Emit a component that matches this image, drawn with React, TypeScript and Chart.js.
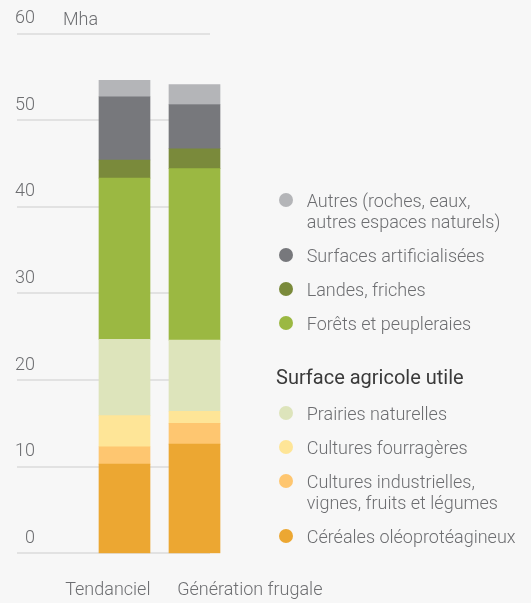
import React, { useEffect, useRef } from 'react';
import { Chart, registerables } from 'chart.js';

Chart.register(...registerables);

// ---- Data ----
const categories = ['Tendanciel', 'Génération frugale'];
const cereales = [10.3, 12.6];
const industrielles = [2.0, 2.4];
const fourrageres = [3.6, 1.4];
const prairies = [8.8, 8.2];
const forets = [18.6, 19.8];
const landes = [2.1, 2.3];
const artificialisees = [7.3, 5.1];
const autres = [1.9, 2.3];
const yTickValues = [0, 10, 20, 30, 40, 50, 60];
const unitLabel = 'Mha';
const sauTitle = 'Surface agricole utile';

// series table (bottom of stack first)
const series = [
  { label: 'Céréales oléoprotéagineux', data: cereales, color: '#eca732', sau: true },
  { label: 'Cultures industrielles,\nvignes, fruits et légumes', data: industrielles, color: '#fec670', sau: true },
  { label: 'Cultures fourragères', data: fourrageres, color: '#fee597', sau: true },
  { label: 'Prairies naturelles', data: prairies, color: '#dde4bb', sau: true },
  { label: 'Forêts et peupleraies', data: forets, color: '#9bb842', sau: false },
  { label: 'Landes, friches', data: landes, color: '#7a8a3b', sau: false },
  { label: 'Surfaces artificialisées', data: artificialisees, color: '#77787c', sau: false },
  { label: 'Autres (roches, eaux,\nautres espaces naturels)', data: autres, color: '#b4b5b8', sau: false },
];

const TEXT_COLOR = '#6d6e71';
const FONT = '300 18px Roboto';
const W = 531;
const H = 603;
const GRID_LEFT = 17;
const GRID_RIGHT = 210;
const X_LABEL_SHIFT = [-16.7, 55.3];

const customPlugin = {
  id: 'customDraw',
  beforeDatasetsDraw(chart: any) {
    const ctx = chart.ctx;
    const y = chart.scales.y;
    ctx.save();
    ctx.strokeStyle = '#e2e2e2';
    ctx.lineWidth = 2;
    yTickValues.forEach((v) => {
      const py = Math.round(y.getPixelForValue(v));
      ctx.beginPath();
      ctx.moveTo(GRID_LEFT, py);
      ctx.lineTo(GRID_RIGHT, py);
      ctx.stroke();
    });
    ctx.restore();
  },
  afterDraw(chart: any) {
    const ctx = chart.ctx;
    const x = chart.scales.x;
    const y = chart.scales.y;
    ctx.save();
    ctx.font = FONT;
    ctx.fillStyle = TEXT_COLOR;
    ctx.textBaseline = 'alphabetic';
    ctx.textAlign = 'center';
    categories.forEach((c, i) => {
      ctx.fillText(c, x.getPixelForValue(i) + X_LABEL_SHIFT[i], 595);
    });
    ctx.textAlign = 'left';
    ctx.fillText(unitLabel, 63, y.getPixelForValue(60) - 8.5);
    ctx.restore();
  },
};

export default function App() {
  const ref = useRef<HTMLCanvasElement>(null);

  useEffect(() => {
    if (!ref.current) return;
    const chart = new Chart(ref.current, {
      type: 'bar',
      data: {
        labels: categories,
        datasets: series.map((s) => ({
          label: s.label,
          data: s.data,
          backgroundColor: s.color,
          borderWidth: 0,
          barThickness: 51,
        })),
      },
      options: {
        responsive: false,
        animation: false,
        layout: { padding: { left: 0, right: W - 229.5, top: 33.5, bottom: H - 553.3 } },
        plugins: { legend: { display: false }, tooltip: { enabled: false } },
        scales: {
          x: { stacked: true, display: false, offset: true },
          y: {
            stacked: true,
            min: 0,
            max: 60,
            afterBuildTicks: (scale: any) => {
              scale.ticks = yTickValues.map((v) => ({ value: v }));
            },
            afterFit: (scale: any) => {
              scale.width = 89.5;
              scale.paddingTop = 0;
              scale.paddingBottom = 0;
            },
            ticks: {
              padding: 54.5,
              labelOffset: -15,
              color: TEXT_COLOR,
              font: { family: 'Roboto', size: 18, weight: '300' as any },
            },
            grid: { display: false, drawTicks: false },
            border: { display: false },
          },
        },
      },
      plugins: [customPlugin],
    });
    return () => chart.destroy();
  }, []);

  const legendItems = [...series].reverse();
  const firstSau = legendItems.findIndex((s) => s.sau);

  return (
    <div style={{ position: 'absolute', left: 0, top: 0, width: W, height: H, background: '#f7f7f7', overflow: 'hidden' }}>
      <canvas ref={ref} width={W} height={H} style={{ position: 'absolute', left: 0, top: 0, width: W, height: H }} />
      <div
        style={{
          position: 'absolute',
          left: 276,
          top: 189.5,
          fontFamily: 'Roboto, sans-serif',
          fontWeight: 300,
          fontSize: 18,
          lineHeight: '21px',
          color: TEXT_COLOR,
        }}
      >
        {legendItems.map((s, i) => (
          <React.Fragment key={s.label}>
            {i === firstSau && (
              <div
                style={{
                  marginTop: 33,
                  marginBottom: 15,
                  fontWeight: 400,
                  fontSize: 20,
                  color: '#3a3a3a',
                  whiteSpace: 'nowrap',
                }}
              >
                {sauTitle}
              </div>
            )}
            <div style={{ display: 'flex', alignItems: 'flex-start', marginBottom: 13 }}>
              <span
                style={{
                  display: 'inline-block',
                  width: 14,
                  height: 14,
                  borderRadius: 7,
                  background: s.color,
                  marginTop: 3.5,
                  marginLeft: 2.7,
                  flex: '0 0 auto',
                }}
              />
              <span style={{ marginLeft: 14, whiteSpace: 'pre' }}>{s.label}</span>
            </div>
          </React.Fragment>
        ))}
      </div>
    </div>
  );
}
